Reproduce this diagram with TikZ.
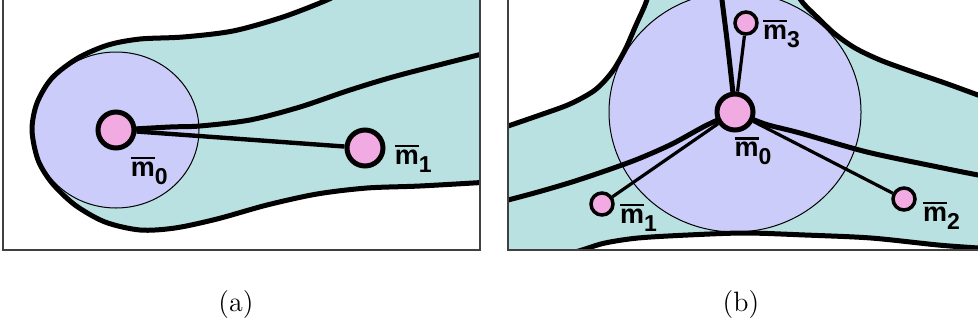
\documentclass[tikz,border=0pt]{standalone}
\usepackage{fontspec}
\setsansfont{Liberation Sans}
\usetikzlibrary{positioning, backgrounds}

\definecolor{regionteal}{RGB}{186,225,225}
\definecolor{balllav}{RGB}{204,204,250}
\definecolor{meanpink}{RGB}{241,170,226}

\newcommand{\mbar}[1]{\setbox0\hbox{m}\rlap{\rule[\dimexpr\ht0+1.4pt\relax]{\wd0}{1.1pt}}m\raisebox{-4pt}{\fontsize{11.5}{11.5}\selectfont #1}}

\begin{document}
\begin{tikzpicture}[
        x=0.5pt, y=-0.5pt,
        mean/.style={circle, draw=black, line width=2.5pt, fill=meanpink, minimum size=18pt, inner sep=0pt},
        smallmean/.style={circle, draw=black, line width=1.75pt, fill=meanpink, minimum size=11pt, inner sep=0pt},
        meanlabel/.style={inner sep=0pt, font=\sffamily\bfseries\fontsize{13.5}{14}\selectfont},
        region/.style={fill=regionteal},
        ball/.style={fill=balllav, draw=black, line width=0.5pt},
        outline/.style={line width=2.5pt, line join=round},
        link/.style={line width=1.6pt},
        frame/.style={draw=black!75, line width=0.6pt},
        caption/.style={font=\fontsize{14}{16}\selectfont}
    ]
        \useasboundingbox (0,0) rectangle (978,327);

        % Means
        \node (ma0) [mean] at (116,130) {};
        \node (ma1) [mean] at (365,148) {};
        \node (mb0) [mean] at (735,112) {};
        \node (mb1) [smallmean] at (602,204) {};
        \node (mb2) [smallmean] at (904,199) {};
        \node (mb3) [smallmean] at (746,23) {};

        % Labels
        \node (la0) [meanlabel, below right=6pt and 0pt of ma0] {\mbar{0}};
        \node (la1) [meanlabel, right=4.5pt of ma1, yshift=-5.5pt] {\mbar{1}};
        \node (lb0) [meanlabel, below=2.25pt of mb0, xshift=9pt] {\mbar{0}};
        \node (lb1) [meanlabel, right=2.5pt of mb1, yshift=-6.75pt] {\mbar{1}};
        \node (lb2) [meanlabel, right=3pt of mb2, yshift=-8.5pt] {\mbar{2}};
        \node (lb3) [meanlabel, right=2pt of mb3, yshift=-5.25pt] {\mbar{3}};

        % Captions
        \node (capa) [caption] at (236,305) {(a)};
        \node (capb) [caption] at (741,305) {(b)};

        % Frames
        \draw [frame] (3,-10) rectangle (480,250);
        \draw [frame] (508,-10) rectangle (990,250);

        \begin{scope}[on background layer]
            % Panel (a)
            \begin{scope}
                \clip (3,0) rectangle (480,250);
                \path [region] plot[smooth] coordinates {(345,-10) (327,0) (283,17) (233,31) (183,37) (140,39) (108,45) (78,58) (52,78) (37,103) (32,130) (38,160) (52,183) (75,205) (105,222) (140,230) (175,228) (217,219) (267,205) (317,194) (367,188) (420,186) (490,182)}
                    -- (490,-10) -- cycle;
                \path [ball] (ma0) ellipse [x radius=83, y radius=78];
                \draw [outline] plot[smooth] coordinates {(345,-10) (327,0) (283,17) (233,31) (183,37) (140,39) (108,45) (78,58) (52,78) (37,103) (32,130) (38,160) (52,183) (75,205) (105,222) (140,230) (175,228) (217,219) (267,205) (317,194) (367,188) (420,186) (490,182)};
                \draw [outline] plot[smooth] coordinates {(ma0) (170,127) (200,126) (250,120) (300,107) (350,90) (400,75) (490,52)};
                \draw [line width=2.2pt] (ma0) -- (ma1);
            \end{scope}
            % Panel (b)
            \begin{scope}
                \clip (508,0) rectangle (978,250);
                \path [region] plot[smooth] coordinates {(650,-10) (645,5) (636,25) (625,50) (612,72) (595,90) (570,104) (540,115) (508,126) (495,130)}
                    -- (495,260) -- (565,260)
                    -- plot[smooth] coordinates {(565,255) (582,250) (605,243) (638,238) (688,235) (745,233) (805,235) (871,238) (938,245) (978,248) (990,249)}
                    -- (990,90)
                    -- plot[smooth] coordinates {(990,99) (978,95) (945,83) (910,71) (880,60) (855,48) (835,34) (818,18) (803,3) (795,-10)}
                    -- cycle;
                \path [ball] (mb0) ellipse [x radius=126, y radius=120];
                \draw [outline] plot[smooth] coordinates {(650,-10) (645,5) (636,25) (625,50) (612,72) (595,90) (570,104) (540,115) (508,126) (495,130)};
                \draw [outline] plot[smooth] coordinates {(565,255) (582,250) (605,243) (638,238) (688,235) (745,233) (805,235) (871,238) (938,245) (978,248) (990,249)};
                \draw [outline] plot[smooth] coordinates {(990,99) (978,95) (945,83) (910,71) (880,60) (855,48) (835,34) (818,18) (803,3) (795,-10)};
                \draw [outline] plot[smooth] coordinates {(mb0) (731,75) (727,40) (722,0) (721,-10)};
                \draw [outline] plot[smooth] coordinates {(mb0) (705,126) (672,144) (638,159) (605,171) (572,182) (538,192) (508,200) (495,203)};
                \draw [outline] plot[smooth] coordinates {(mb0) (765,124) (800,133) (867,152) (938,167) (978,175) (990,177)};
                \draw [link] (mb0) -- (mb1);
                \draw [link] (mb0) -- (mb2);
                \draw [link] (mb0) -- (mb3);
            \end{scope}
        \end{scope}
    \end{tikzpicture}
\end{document}
